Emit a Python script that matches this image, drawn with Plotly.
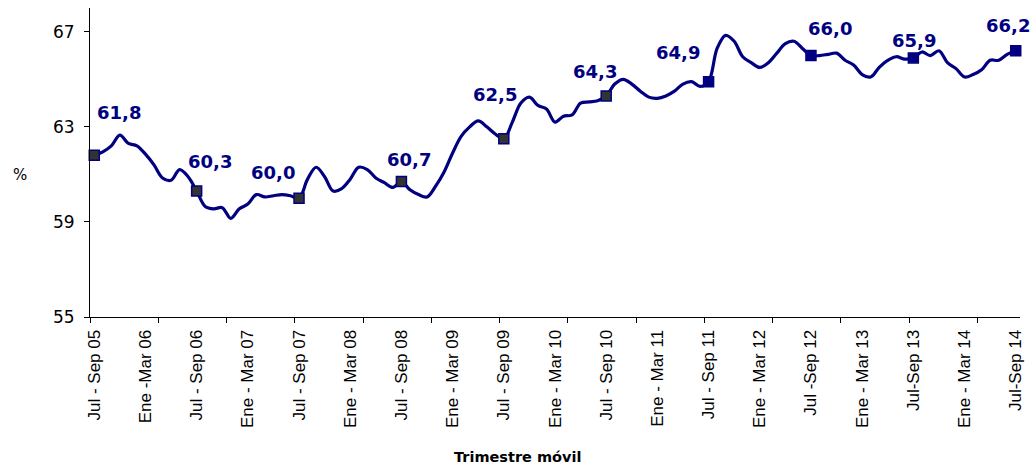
import plotly.graph_objects as go

# ---- data ----
values = [
    61.8, 61.95, 62.2, 62.65, 62.3, 62.2, 61.85, 61.4, 60.85, 60.75, 61.2, 60.9,
    60.3, 59.65, 59.55, 59.6, 59.15, 59.55, 59.75, 60.15, 60.05, 60.1, 60.15, 60.1,
    60.0, 60.8, 61.3, 60.9, 60.3, 60.4, 60.8, 61.3, 61.2, 60.85, 60.65, 60.45,
    60.7, 60.35, 60.15, 60.05, 60.5, 61.1, 61.9, 62.6, 63.0, 63.25, 63.0, 62.7,
    62.5, 63.2, 64.0, 64.25, 63.9, 63.75, 63.2, 63.45, 63.5, 64.0, 64.05, 64.1,
    64.3, 64.8, 65.0, 64.8, 64.5, 64.25, 64.2, 64.3, 64.5, 64.8, 64.9, 64.7,
    64.9, 66.3, 66.85, 66.6, 65.95, 65.7, 65.5, 65.7, 66.1, 66.5, 66.6, 66.3,
    66.0, 66.0, 66.05, 66.1, 65.8, 65.6, 65.2, 65.1, 65.5, 65.8, 65.95, 65.85,
    65.9, 66.15, 66.0, 66.2, 65.7, 65.45, 65.1, 65.2, 65.4, 65.8, 65.8, 66.05,
    66.2,
]
tick_labels = [
    "Jul - Sep 05", "Ene -Mar 06", "Jul - Sep 06", "Ene - Mar 07", "Jul - Sep 07",
    "Ene - Mar 08", "Jul - Sep 08", "Ene - Mar 09", "Jul - Sep 09", "Ene - Mar 10",
    "Jul - Sep 10", "Ene - Mar 11", "Jul - Sep 11", "Ene - Mar 12", "Jul -Sep 12",
    "Ene - Mar 13", "Jul-Sep 13", "Ene - Mar 14", "Jul-Sep 14",
]
marker_idx = [0, 12, 24, 36, 48, 60, 72, 84, 96, 108]
marker_labels = ["61,8", "60,3", "60,0", "60,7", "62,5", "64,3", "64,9", "66,0", "65,9", "66,2"]

# ---- style ----
NAVY = "#000080"
label_shift = [(25, 43), (13, 30), (-26, 26), (8, 22), (-9, 44), (-11, 24),
               (-31, 29), (19, 27), (1, 17), (-8, 25)]
marker_fill = ["#333333"] * 6 + [NAVY] * 4
ARIAL = "Arial, Liberation Sans, sans-serif"
WIDE = "DejaVu Sans, sans-serif"

x = list(range(len(values)))
fig = go.Figure()
fig.add_trace(go.Scatter(
    x=x, y=values, mode="lines",
    line=dict(color=NAVY, width=3.2, shape="spline", smoothing=1.0),
    hoverinfo="skip", showlegend=False, cliponaxis=False,
))
fig.add_trace(go.Scatter(
    x=marker_idx, y=[values[i] for i in marker_idx], mode="markers",
    marker=dict(symbol="square", size=10, color=marker_fill,
                line=dict(color=NAVY, width=1.5)),
    hoverinfo="skip", showlegend=False, cliponaxis=False,
))

for (i, lab, (dx, dy)) in zip(marker_idx, marker_labels, label_shift):
    fig.add_annotation(x=i, y=values[i], text="<b>" + lab + "</b>", showarrow=False,
                       xshift=dx, yshift=dy,
                       font=dict(family=WIDE, size=18, color=NAVY))

fig.add_annotation(xref="paper", yref="paper", x=-0.075, y=0.46, text="%",
                   showarrow=False, xanchor="center", yanchor="middle",
                   font=dict(family=WIDE, size=15, color="black"))
fig.add_annotation(xref="paper", yref="paper", x=0.46, y=-0.453,
                   text="<b>Trimestre móvil</b>", showarrow=False,
                   xanchor="center", yanchor="middle",
                   font=dict(family=WIDE, size=14.5, color="black"))

n = len(values)
fig.update_xaxes(
    range=[-0.5, n - 0.5],
    tickmode="array", tickvals=list(range(0, n, 6)), ticktext=tick_labels,
    tickangle=-90, ticks="", ticklabelstandoff=5,
    tickfont=dict(family=ARIAL, size=17, color="black"),
    showline=True, linecolor="black", linewidth=1,
    showgrid=False, zeroline=False,
    minor=dict(tickmode="array", tickvals=[k - 0.5 for k in range(0, n + 1, 8)],
               ticks="outside", ticklen=5, tickcolor="black", showgrid=False),
)
fig.update_yaxes(
    range=[55, 68],
    tickmode="array", tickvals=[55, 59, 63, 67],
    ticks="outside", ticklen=5, tickcolor="black", ticklabelstandoff=6,
    tickfont=dict(family=WIDE, size=17, color="black"),
    showline=True, linecolor="black", linewidth=1,
    showgrid=False, zeroline=False,
)
fig.update_layout(
    width=1030, height=472,
    margin=dict(l=90, r=10, t=8, b=155, autoexpand=False),
    plot_bgcolor="white", paper_bgcolor="white",
    hovermode=False,
)
fig.write_html("out.html", config={"displayModeBar": False},
               post_script="document.body.style.margin='0';")
